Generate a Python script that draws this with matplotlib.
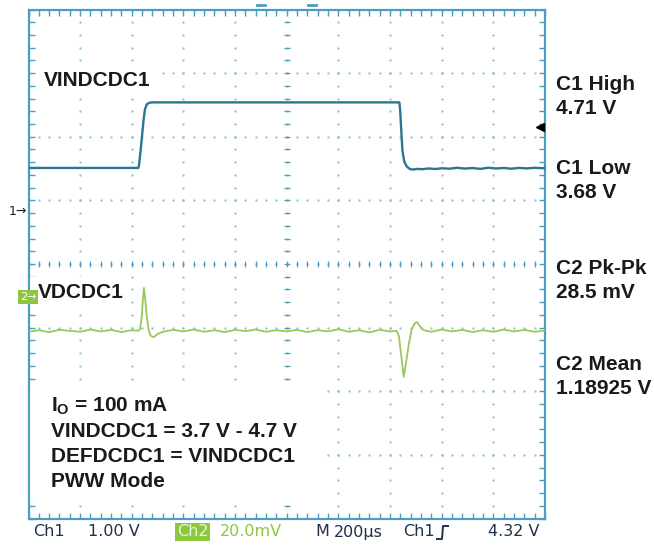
import numpy as np
import matplotlib
matplotlib.use("Agg")
import matplotlib.pyplot as plt
from matplotlib.lines import Line2D
from matplotlib.patches import Rectangle

# ---------------- data ----------------
# time axis: 200 us/div, 10 divisions
time_per_div_us = 200
n_div_x = 10
n_div_y = 8

# Channel 1 (VINDCDC1), volts, 1.00 V/div
ch1_t_us = [0, 425, 428, 434, 440, 446, 451, 458, 468, 480, 1436, 1439, 1443,
            1448, 1455, 1465, 1478, 1490, 1505, 1525, 1550, 1575, 1600, 1630,
            1660, 1690, 1720, 1750, 1780, 1810, 1840, 1870, 1900, 1930, 1960,
            1990, 2000]
ch1_v = [3.68, 3.68, 3.72, 3.95, 4.20, 4.45, 4.60, 4.68, 4.705, 4.71, 4.71,
         4.60, 4.30, 3.95, 3.78, 3.70, 3.66, 3.655, 3.665, 3.66, 3.672, 3.663,
         3.675, 3.668, 3.682, 3.670, 3.678, 3.665, 3.683, 3.672, 3.679, 3.668,
         3.680, 3.673, 3.682, 3.676, 3.678]
ch1_offset_v = 2.17          # screen offset of channel 1
ch1_scale_v = 1.00

# Channel 2 (VDCDC1), mV around the mean, 20.0 mV/div
ch2_t_us = [0, 40, 80, 120, 160, 200, 240, 280, 320, 360, 400, 425, 432, 438,
            443, 447, 452, 458, 465, 472, 485, 500, 520, 560, 600, 640, 680,
            720, 760, 800, 840, 880, 920, 960, 1000, 1040, 1080, 1120, 1160,
            1200, 1240, 1280, 1320, 1360, 1400, 1425, 1434, 1442, 1453, 1462,
            1472, 1484, 1495, 1504, 1515, 1530, 1560, 1600, 1640, 1680, 1720,
            1760, 1800, 1840, 1880, 1920, 1960, 2000]
ch2_mv = [-0.3, 0.2, -0.4, 0.3, 0.0, -0.3, 0.4, -0.2, 0.3, -0.4, 0.2, 0.0, 0.5,
          4.0, 10.0, 13.5, 10.0, 4.5, 0.5, -1.5, -2.0, -1.0, -0.3, 0.3, -0.2,
          0.4, -0.3, 0.2, -0.4, 0.3, -0.1, 0.4, -0.3, 0.2, -0.2, 0.3, -0.4,
          0.2, -0.2, 0.5, -0.3, 0.2, -0.5, 0.3, -0.2, 0.0, -1.5, -7.0, -14.5,
          -10.0, -4.5, 0.5, 2.3, 2.8, 1.5, 0.2, -0.3, 0.4, -0.2, 0.3, -0.4,
          0.2, -0.3, 0.4, -0.2, 0.3, -0.3, 0.1]
ch2_position_div = -1.05
ch2_scale_mv = 20.0

trigger_level_v = 4.32

right_labels = ["C1 High", "4.71 V", "C1 Low", "3.68 V",
                "C2 Pk-Pk", "28.5 mV", "C2 Mean", "1.18925 V"]
note_lines = [r"$\mathbf{I_O}$ = 100 mA", "VINDCDC1 = 3.7 V - 4.7 V",
              "DEFDCDC1 = VINDCDC1", "PWW Mode"]
status_items = ["Ch1", "1.00 V", "Ch2", "20.0mV", "M", "200µs", "Ch1", "4.32 V"]

# ---------------- styling ----------------
plt.rcParams['mathtext.fontset'] = 'custom'
plt.rcParams['mathtext.bf'] = 'Liberation Sans:bold'
plt.rcParams['mathtext.rm'] = 'Liberation Sans'

W, H = 654, 545
fig = plt.figure(figsize=(W / 100, H / 100), dpi=100)
fig.patch.set_facecolor("white")

left_px, right_px, top_px, bot_px = 28.5, 545.0, 9.5, 518.5
ax = fig.add_axes([left_px / W, 1 - bot_px / H, (right_px - left_px) / W,
                   (bot_px - top_px) / H])
xmax = time_per_div_us * n_div_x
ax.set_xlim(0, xmax)
ax.set_ylim(-n_div_y / 2, n_div_y / 2)

border_c = "#4c9dc0"
grid_c = "#7fbcd6"
for s in ax.spines.values():
    s.set_color(border_c)
    s.set_linewidth(1.6)

ax.set_xticks([])
ax.set_yticks([])
ax.set_xticks(np.arange(0, xmax + 1, time_per_div_us / 5), minor=True)
ax.set_yticks(np.arange(-4, 4.01, 0.2), minor=True)
ax.tick_params(which="minor", direction="in", length=4, width=1.0,
               color=border_c, top=True, right=True, bottom=True, left=True,
               labelbottom=False, labelleft=False)

# dotted graticule
xdots = np.arange(0, xmax + 1, time_per_div_us / 5)
ydots = np.arange(-4, 4.01, 0.2)
for gy in range(-3, 4):
    ax.plot(xdots, np.full_like(xdots, gy, dtype=float), ls="none", marker="s",
            ms=1.4, mew=0, color=grid_c, zorder=1)
for gx in range(1, n_div_x):
    ax.plot(np.full_like(ydots, gx * time_per_div_us, dtype=float), ydots,
            ls="none", marker="s", ms=1.4, mew=0, color=grid_c, zorder=1)
# centre lines with minor tick marks
xc = xmax / 2
ax.plot(xdots, np.zeros_like(xdots), ls="none", marker="|", ms=4.5, mew=0.9,
        color=border_c, zorder=1)
ax.plot(np.full_like(ydots, xc), ydots, ls="none", marker="_", ms=4.5, mew=0.9,
        color=border_c, zorder=1)

# ---------------- traces ----------------
ch1_y = (np.array(ch1_v) - ch1_offset_v) / ch1_scale_v
ax.plot(ch1_t_us, ch1_y, color="#2a7690", lw=1.7, zorder=4,
        solid_joinstyle="round")

ch2_y = np.array(ch2_mv) / ch2_scale_mv + ch2_position_div
ax.plot(ch2_t_us, ch2_y, color="#98c95a", lw=1.3, zorder=4,
        solid_joinstyle="round")

# trigger level marker on right edge
ax.plot([xmax - 20], [(trigger_level_v - ch1_offset_v) / ch1_scale_v],
        marker="<", ms=6, color="black", clip_on=False, zorder=5)

# ---------------- labels inside screen ----------------
def fx(px):
    return px / W

def fy(py):
    return 1 - py / H

bold = dict(family="Liberation Sans", weight="bold", color="#1a1a1a")
fs = 15

fig.patches.append(Rectangle((fx(38), fy(95)), (160 - 38) / W, (95 - 66) / H,
                             transform=fig.transFigure, facecolor="white",
                             edgecolor="none", zorder=3))
fig.text(fx(44), fy(80), "VINDCDC1", fontsize=fs, va="center", ha="left",
         zorder=6, **bold)

fig.patches.append(Rectangle((fx(30), fy(309)), (130 - 30) / W, (309 - 277) / H,
                             transform=fig.transFigure, facecolor="white",
                             edgecolor="none", zorder=3))
fig.text(fx(38), fy(293), "VDCDC1", fontsize=fs, va="center", ha="left",
         zorder=6, **bold)

fig.patches.append(Rectangle((fx(30), fy(503)), (322 - 30) / W, (503 - 388) / H,
                             transform=fig.transFigure, facecolor="white",
                             edgecolor="none", zorder=3))
for i, line in enumerate(note_lines):
    fig.text(fx(51), fy(406 + i * 25.3), line, fontsize=fs, va="center",
             ha="left", zorder=6, **bold)

# right-hand measurement labels
right_y = [85, 108, 168, 192, 269, 293, 365, 388]
for txt, py in zip(right_labels, right_y):
    fig.text(fx(556), fy(py), txt, fontsize=fs, va="center", ha="left", **bold)

# channel markers on left
fig.text(fx(9), fy(211), "1→", fontsize=9, va="center", ha="left",
         color="#1a1a1a", family="DejaVu Sans")
fig.text(fx(20), fy(297), "2→", fontsize=8, va="center", ha="left",
         color="white", family="DejaVu Sans",
         bbox=dict(boxstyle="square,pad=0.15", facecolor="#8dc63f",
                   edgecolor="none"))

# small markers above top border
for mx in (261, 312):
    fig.add_artist(Line2D([fx(mx - 4), fx(mx + 4)], [fy(5), fy(5)],
                          color=border_c, lw=2))

# ---------------- status bar ----------------
sb_y = fy(532)
status_font = dict(family=["DejaVu Sans"], fontsize=11.5, va="center")
dark = "#1f3148"
green = "#8dc63f"
fig.text(fx(33), sb_y, status_items[0], ha="left", color=dark, **status_font)
fig.text(fx(88), sb_y, status_items[1], ha="left", color=dark, **status_font)
fig.text(fx(177), sb_y, status_items[2], ha="left", color="#eaf6d6",
         bbox=dict(boxstyle="square,pad=0.12", facecolor=green,
                   edgecolor="none"), **status_font)
fig.text(fx(220), sb_y, status_items[3], ha="left", color=green, **status_font)
fig.text(fx(315), sb_y, status_items[4], ha="left", color=dark, **status_font)
fig.text(fx(334), sb_y, status_items[5], ha="left", color=dark, **status_font)
fig.text(fx(403), sb_y, status_items[6], ha="left", color=dark, **status_font)
fig.text(fx(540), sb_y, status_items[7], ha="right", color=dark, **status_font)
# rising-edge trigger glyph
fig.add_artist(Line2D([fx(437), fx(442), fx(443), fx(448)],
                      [fy(539), fy(539), fy(526), fy(526)],
                      color=dark, lw=1.4))

fig.savefig("out.png", dpi=100, facecolor="white")
